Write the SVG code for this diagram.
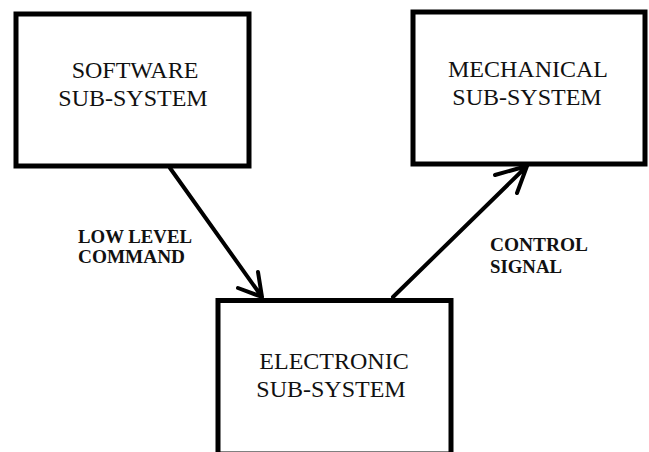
<svg xmlns="http://www.w3.org/2000/svg" width="649" height="452" viewBox="0 0 649 452">
<style>
.box{fill:#fff;stroke:#000;stroke-width:5}
.t{font-family:"Liberation Serif","Times New Roman",serif;font-size:24px;fill:#111;text-anchor:middle}
.lbl{font-family:"Liberation Serif","Times New Roman",serif;font-size:18px;font-weight:bold;fill:#111}
.conn{stroke:#000;stroke-width:4;fill:none;stroke-linecap:round;stroke-linejoin:round}
</style>
<rect width="649" height="452" fill="#fff"/>
<g id="software">
<rect class="box" x="16" y="14" width="233" height="152"/>
<text class="t" x="135" y="78">SOFTWARE</text>
<text class="t" x="133" y="106">SUB-SYSTEM</text>
</g>
<g id="mechanical">
<rect class="box" x="413" y="12" width="232" height="152"/>
<text class="t" x="528" y="77">MECHANICAL</text>
<text class="t" x="527" y="105">SUB-SYSTEM</text>
</g>
<g id="electronic">
<rect class="box" x="218" y="300.5" width="233" height="153.5"/>
<text class="t" x="334" y="369">ELECTRONIC</text>
<text class="t" x="331" y="397">SUB-SYSTEM</text>
</g>
<g id="connectors">
<path class="conn" d="M170 168 L262 297 M238 288 L262 297 L258 272"/>
<path class="conn" d="M393 297 L527 166 M495 175 L527 166 L517 193"/>
</g>
<g id="labels">
<text class="lbl" x="78" y="243" textLength="114" lengthAdjust="spacingAndGlyphs">LOW LEVEL</text>
<text class="lbl" x="78" y="263" textLength="107" lengthAdjust="spacingAndGlyphs">COMMAND</text>
<text class="lbl" x="490" y="251" textLength="98" lengthAdjust="spacingAndGlyphs">CONTROL</text>
<text class="lbl" x="490" y="273" textLength="72" lengthAdjust="spacingAndGlyphs">SIGNAL</text>
</g>
</svg>
